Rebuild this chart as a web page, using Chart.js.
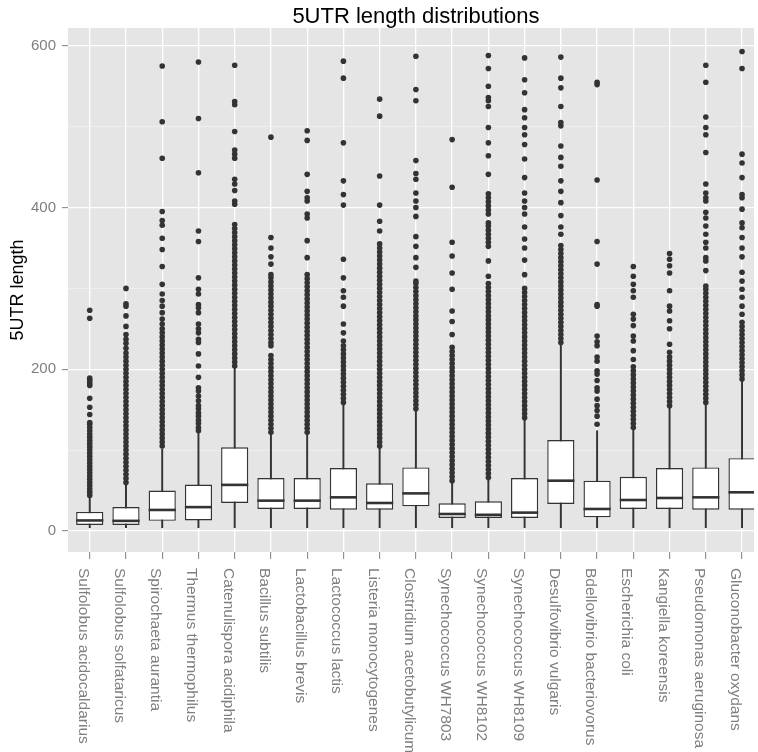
<!DOCTYPE html>
<html>
<head>
<meta charset="utf-8">
<script src="https://cdn.jsdelivr.net/npm/chart.js@4.4.0/dist/chart.umd.min.js"></script>
<style>
  html, body { margin: 0; padding: 0; background: #ffffff; overflow: hidden; }
  #wrap { width: 758px; height: 752px; }
</style>
</head>
<body>
<div id="wrap"><canvas id="chart"></canvas></div>
<script>
var species = [
  'Sulfolobus acidocaldarius', 'Sulfolobus solfataricus', 'Spirochaeta aurantia',
  'Thermus thermophilus', 'Catenulispora acidiphila', 'Bacillus subtilis',
  'Lactobacillus brevis', 'Lactococcus lactis', 'Listeria monocytogenes',
  'Clostridium acetobutylicum', 'Synechococcus WH7803', 'Synechococcus WH8102',
  'Synechococcus WH8109', 'Desulfovibrio vulgaris', 'Bdellovibrio bacteriovorus',
  'Escherichia coli', 'Kangiella koreensis', 'Pseudomonas aeruginosa', 'Gluconobacter oxydans'
];

// box statistics
var whiskerLow  = [4, 4, 4, 4, 4, 4, 4, 4, 4, 4, 4, 4, 4, 4, 4, 4, 4, 4, 4];
var q1          = [7.4, 7.4, 12.5, 13, 34.6, 27.2, 27.2, 26.4, 26.4, 30.5, 16.1, 16.1, 16.1, 33.4, 16.9, 27.2, 27.2, 26.4, 26.4];
var medians     = [13, 12.5, 26, 29.5, 57, 37.5, 37.5, 41.6, 34.6, 46.5, 21, 20, 22.7, 62.2, 27.2, 38.3, 40.8, 41.6, 47.8];
var q3          = [23.5, 29.5, 50, 57.5, 103.4, 65.5, 65.5, 77.8, 59, 78.6, 34.2, 36.7, 65.5, 112.4, 62.2, 67, 77.8, 78.6, 90];
var whiskerHigh = [42, 58, 101, 122, 203, 120, 122, 157, 102.5, 149, 60, 64, 138, 231, 124, 126, 153, 157, 186];

// outlier points per species
var outliers = [
  [44,48,52,56,60,64,68,72,76,80,84,88,92,96,100,104,108,112,116,120,124,128,132,134,144,153,164,180,183,186,189,263,273],
  [60,65,70,75,80,85,90,95,100,105,110,115,120,125,130,135,140,145,150,155,160,165,170,175,180,185,190,195,200,205,210,215,220,226,232,237,243,253,266,278,281,300],
  [105,110,115,120,125,130,135,140,145,150,155,160,165,170,175,180,185,190,195,200,205,210,215,220,225,230,235,240,245,250,256,262,270,278,285,293,305,327,348,362,378,384,395,461,506,575],
  [124,128,133,137,142,146,151,155,161,167,173,177,190,204,219,233,237,245,250,256,270,276,280,293,299,313,358,371,443,510,580],
  [204,209,214,219,224,229,234,239,244,249,254,259,264,269,274,279,284,289,294,299,304,309,314,319,324,329,334,339,344,349,354,359,364,369,374,379,404,408,421,429,435,461,466,471,494,527,531,576],
  [122,127,132,137,142,147,152,157,162,167,172,177,182,187,192,197,202,207,212,217,229,233,238,243,248,253,258,263,268,273,278,283,288,293,298,303,308,313,317,330,339,350,363,487],
  [122,127,132,137,142,147,152,157,162,167,172,177,182,187,192,197,202,207,212,217,222,227,232,237,242,247,252,257,262,267,272,277,282,287,292,297,302,307,312,317,338,359,387,392,408,412,420,441,483,495],
  [159,164,169,174,179,184,189,194,199,204,209,214,219,224,229,235,245,256,278,289,297,313,336,403,416,433,480,560,581],
  [105,110,115,120,125,130,135,140,145,150,155,160,165,170,175,180,185,190,195,200,205,210,215,220,225,230,235,240,245,250,255,260,265,270,275,280,285,290,295,300,305,310,315,320,325,330,335,340,345,350,355,371,383,403,439,513,534],
  [151,156,161,166,171,176,181,186,191,196,201,206,211,216,221,226,231,236,241,246,251,256,261,266,271,276,281,286,291,296,301,306,309,326,338,352,364,389,400,408,418,435,442,458,532,546,587],
  [62,67,72,77,82,87,92,97,102,107,112,117,122,127,132,137,142,147,152,157,162,167,172,177,182,187,192,197,202,207,212,217,222,227,243,259,272,299,319,340,357,425,484],
  [66,71,76,81,86,91,96,101,106,111,116,121,126,131,136,141,146,151,156,161,166,171,176,181,186,191,196,201,206,211,216,221,226,231,236,241,246,251,256,261,266,271,276,281,286,291,296,301,306,315,334,352,357,362,367,372,377,381,392,397,402,407,412,417,441,464,480,499,525,532,536,550,572,588],
  [140,145,150,155,160,165,170,175,180,185,190,195,200,205,210,215,220,225,230,235,240,245,250,255,260,265,270,275,280,285,290,295,300,317,335,350,361,376,392,400,408,418,437,460,478,490,499,511,521,542,558,585],
  [233,238,243,248,253,258,263,268,273,278,283,288,293,298,303,308,313,318,323,328,333,338,343,348,353,367,376,390,406,420,433,451,462,476,501,505,525,548,560,586],
  [132,142,149,155,163,173,177,186,194,198,210,215,229,234,241,278,280,330,358,434,552,555],
  [128,133,138,143,148,153,158,163,168,173,178,183,188,193,198,203,212,223,235,241,254,262,268,289,297,305,315,327],
  [155,160,165,170,175,180,185,190,195,200,205,210,215,221,231,250,260,272,278,297,319,328,336,343],
  [159,164,169,174,179,184,189,194,199,204,209,214,219,224,229,234,239,244,249,254,259,264,269,274,279,284,289,294,299,303,322,334,338,350,357,367,377,387,394,408,412,418,429,468,490,499,512,555,576],
  [188,193,198,203,208,213,218,223,228,233,238,243,248,253,258,268,278,289,299,309,320,339,350,363,375,381,398,412,416,437,455,466,572,593]
];

var yTicks = [0, 100, 200, 300, 400, 500, 600];
var titleText = '5UTR length distributions';
var yTitle = '5UTR length';

var FONT = '"Liberation Sans", Arial, Helvetica, sans-serif';
var INK = '#333333';
var AXIS_GREY = '#7F7F7F';

var boxData = [];
var whiskerData = [];
var medianData = [];
var outlierData = [];
for (var i = 0; i < species.length; i++) {
  boxData.push({x: i, y: [q1[i], q3[i]]});
  whiskerData.push({x: i, y: [whiskerLow[i], whiskerHigh[i]]});
  medianData.push({x: i, y: medians[i]});
  for (var j = 0; j < outliers[i].length; j++) {
    outlierData.push({x: i, y: outliers[i][j]});
  }
}

// half of a box width, from the x scale (box = 0.75 of a category)
function halfBox(ctx) {
  var s = ctx.chart.scales.x;
  return Math.abs(s.getPixelForValue(1) - s.getPixelForValue(0)) * 0.375;
}

var panelPlugin = {
  id: 'panel',
  beforeDraw: function(chart) {
    var a = chart.chartArea;
    var c = chart.ctx;
    c.save();
    c.fillStyle = '#E5E5E5';
    c.fillRect(a.left, a.top, a.right - a.left, a.bottom - a.top);
    c.restore();
  },
  afterDraw: function(chart) {
    var a = chart.chartArea;
    var c = chart.ctx;
    var xs = chart.scales.x;
    c.save();
    // title, centred on the panel
    c.fillStyle = '#000000';
    c.font = '22px ' + FONT;
    c.textAlign = 'center';
    c.textBaseline = 'alphabetic';
    c.fillText(titleText, xs.getPixelForValue((species.length - 1) / 2), 23);
    // category labels, turned to read downwards
    c.fillStyle = AXIS_GREY;
    c.font = '15.5px ' + FONT;
    c.textAlign = 'left';
    for (var k = 0; k < species.length; k++) {
      c.save();
      c.translate(xs.getPixelForValue(k) - 11, a.bottom + 16);
      c.rotate(Math.PI / 2);
      c.fillText(species[k], 0, 0);
      c.restore();
    }
    c.restore();
  }
};

var ctx = document.getElementById('chart');
var chart = new Chart(ctx, {
  type: 'bar',
  data: {
    datasets: [
      {
        type: 'scatter',
        data: outlierData,
        pointRadius: 2.8,
        pointBackgroundColor: INK,
        pointBorderWidth: 0,
        order: 0
      },
      {
        type: 'scatter',
        data: medianData,
        pointStyle: 'line',
        pointRadius: halfBox,
        pointBorderColor: INK,
        pointBorderWidth: 2.6,
        order: 1
      },
      {
        type: 'bar',
        data: boxData,
        backgroundColor: '#FFFFFF',
        borderColor: INK,
        borderWidth: 1.4,
        borderSkipped: false,
        grouped: false,
        categoryPercentage: 1,
        barPercentage: 0.75,
        order: 2
      },
      {
        type: 'bar',
        data: whiskerData,
        backgroundColor: INK,
        borderWidth: 0,
        grouped: false,
        barThickness: 1.3,
        order: 3
      }
    ]
  },
  plugins: [panelPlugin],
  options: {
    responsive: true,
    maintainAspectRatio: false,
    animation: false,
    events: [],
    layout: { padding: { top: 28, left: 0, right: 0, bottom: 0 } },
    plugins: {
      legend: { display: false },
      tooltip: { enabled: false },
      title: { display: false }
    },
    scales: {
      x: {
        type: 'linear',
        min: -0.6,
        max: 18.33,
        offset: false,
        border: { display: false },
        grid: {
          offset: false,
          color: '#FFFFFF',
          lineWidth: 1.3,
          tickColor: AXIS_GREY,
          tickLength: 7,
          tickWidth: 1
        },
        ticks: { display: false },
        afterBuildTicks: function(s) {
          s.ticks = species.map(function(_, n) { return {value: n}; });
        },
        afterFit: function(s) { s.height = 200; }
      },
      y: {
        type: 'linear',
        min: -26,
        max: 622,
        border: { display: false },
        grid: {
          color: function(c) { return c.tick.value % 200 === 0 ? '#FFFFFF' : '#F2F2F2'; },
          lineWidth: function(c) { return c.tick.value % 200 === 0 ? 1.3 : 0.7; },
          tickColor: function(c) { return c.tick.value % 200 === 0 ? AXIS_GREY : 'rgba(0,0,0,0)'; },
          tickLength: 6,
          tickWidth: 1
        },
        ticks: {
          color: AXIS_GREY,
          font: { family: FONT, size: 15 },
          padding: 6,
          callback: function(v) { return v % 200 === 0 ? v : ''; }
        },
        title: {
          display: true,
          text: yTitle,
          color: '#000000',
          font: { family: FONT, size: 18 },
          padding: { top: 7, bottom: 0 }
        },
        afterBuildTicks: function(s) {
          s.ticks = yTicks.map(function(v) { return {value: v}; });
        },
        afterFit: function(s) { s.width = 68; }
      }
    }
  }
});
</script>
</body>
</html>
